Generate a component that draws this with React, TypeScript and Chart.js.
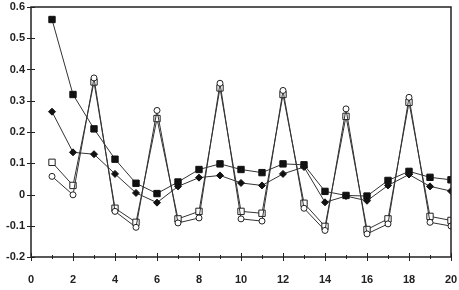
import React, { useEffect, useRef } from "react";
import { Chart, registerables } from "chart.js";

Chart.register(...registerables);

const xValues = [1, 2, 3, 4, 5, 6, 7, 8, 9, 10, 11, 12, 13, 14, 15, 16, 17, 18, 19, 20];
const filledSquares = [0.56, 0.32, 0.21, 0.113, 0.036, 0.003, 0.04, 0.08, 0.098, 0.08, 0.07, 0.098, 0.095, 0.01, -0.003, -0.005, 0.045, 0.074, 0.055, 0.047];
const filledDiamonds = [0.265, 0.135, 0.129, 0.066, 0.005, -0.026, 0.026, 0.054, 0.061, 0.037, 0.029, 0.066, 0.088, -0.025, -0.005, -0.02, 0.029, 0.064, 0.026, 0.011];
const openSquares = [0.103, 0.029, 0.36, -0.044, -0.089, 0.243, -0.078, -0.054, 0.341, -0.054, -0.06, 0.32, -0.028, -0.102, 0.25, -0.112, -0.078, 0.295, -0.07, -0.083];
const openCircles = [0.058, -0.001, 0.373, -0.054, -0.105, 0.269, -0.091, -0.075, 0.356, -0.078, -0.085, 0.333, -0.044, -0.115, 0.274, -0.126, -0.094, 0.311, -0.089, -0.101];
const xTickValues = [0, 2, 4, 6, 8, 10, 12, 14, 16, 18, 20];
const yTickValues = [-0.2, -0.1, 0, 0.1, 0.2, 0.3, 0.4, 0.5, 0.6];

const toPoints = (ys: number[]) => xValues.map((x, i) => ({ x, y: ys[i] }));

const axisFramePlugin = {
  id: "axisFrame",
  afterDatasetsDraw(chart: any) {
    const ctx = chart.ctx;
    const area = chart.chartArea;
    const sx = chart.scales.x;
    const sy = chart.scales.y;
    const left = area.left;
    const right = area.right;
    const top = area.top;
    const bottom = area.bottom;
    ctx.save();
    ctx.strokeStyle = "#222";
    ctx.lineWidth = 1.5;
    ctx.beginPath();
    ctx.rect(left, top, right - left, bottom - top);
    ctx.stroke();
    ctx.lineWidth = 1;
    for (const v of yTickValues) {
      const y = Math.round(sy.getPixelForValue(v)) + 0.5;
      ctx.beginPath();
      ctx.moveTo(left - 4, y);
      ctx.lineTo(left + 4, y);
      ctx.stroke();
    }
    for (const v of xTickValues) {
      const x = Math.round(sx.getPixelForValue(v)) + 0.5;
      ctx.beginPath();
      ctx.moveTo(x, bottom - 4);
      ctx.lineTo(x, bottom + 4);
      ctx.stroke();
    }
    for (const v of xValues) {
      if (v % 2 !== 1) continue;
      const x = Math.round(sx.getPixelForValue(v)) + 0.5;
      ctx.beginPath();
      ctx.moveTo(x, bottom - 2);
      ctx.lineTo(x, bottom + 2);
      ctx.stroke();
    }
    ctx.restore();
  },
};

export default function App() {
  const ref = useRef<HTMLCanvasElement | null>(null);
  useEffect(() => {
    document.body.style.margin = "0";
    const line = "#333";
    const chart = new Chart(ref.current!, {
      type: "line",
      data: {
        datasets: [
          {
            data: toPoints(openCircles),
            borderColor: line,
            borderWidth: 1,
            pointStyle: "circle",
            pointRadius: 3,
            pointBackgroundColor: "#fff",
            pointBorderColor: "#222",
            pointBorderWidth: 1,
          },
          {
            data: toPoints(openSquares),
            borderColor: line,
            borderWidth: 1,
            pointStyle: "rect",
            pointRadius: 4.5,
            pointBackgroundColor: "#fff",
            pointBorderColor: "#222",
            pointBorderWidth: 1,
          },
          {
            data: toPoints(filledDiamonds),
            borderColor: line,
            borderWidth: 1,
            pointStyle: "rectRot",
            pointRadius: 3.5,
            pointBackgroundColor: "#111",
            pointBorderColor: "#111",
            pointBorderWidth: 1,
          },
          {
            data: toPoints(filledSquares),
            borderColor: line,
            borderWidth: 1,
            pointStyle: "rect",
            pointRadius: 4.5,
            pointBackgroundColor: "#111",
            pointBorderColor: "#111",
            pointBorderWidth: 1,
          },
        ],
      },
      options: {
        animation: false,
        responsive: false,
        maintainAspectRatio: false,
        layout: { padding: { top: 7, right: 8, left: 0, bottom: 0 } },
        plugins: { legend: { display: false }, tooltip: { enabled: false } },
        scales: {
          x: {
            type: "linear",
            min: 0,
            max: 20,
            afterFit: (s: any) => {
              s.height = 33;
              s.paddingLeft = 0;
              s.paddingRight = 0;
            },
            afterBuildTicks: (s: any) => { s.ticks = xTickValues.map((v) => ({ value: v })); },
            grid: { display: false, drawTicks: false },
            border: { display: false },
            ticks: {
              padding: 16,
              color: "#222",
              font: { family: "Liberation Sans", size: 11, weight: "bold" },
              maxRotation: 0,
              autoSkip: false,
            },
          },
          y: {
            type: "linear",
            min: -0.2,
            max: 0.6,
            afterFit: (s: any) => {
              s.width = 31;
              s.paddingTop = 0;
              s.paddingBottom = 0;
            },
            afterBuildTicks: (s: any) => { s.ticks = yTickValues.map((v) => ({ value: v })); },
            grid: { display: false, drawTicks: false },
            border: { display: false },
            ticks: {
              padding: 6,
              color: "#222",
              font: { family: "Liberation Sans", size: 11, weight: "bold" },
              callback: (v: any) => {
                const n = Math.round(Number(v) * 10) / 10;
                return n === 0 ? "0" : n.toFixed(1);
              },
            },
          },
        },
      },
      plugins: [axisFramePlugin],
    } as any);
    return () => chart.destroy();
  }, []);
  return (
    <div style={{ position: "fixed", left: 0, top: 0, width: 459, height: 290, background: "#fff" }}>
      <canvas ref={ref} width={459} height={290} style={{ width: 459, height: 290 }} />
    </div>
  );
}
